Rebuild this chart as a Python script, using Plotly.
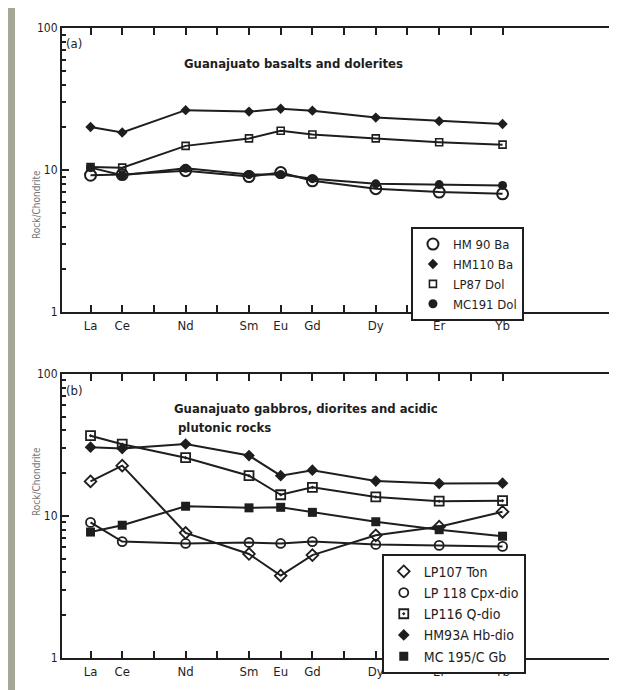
import plotly.graph_objects as go

# Element positions (atomic number) and labels
elements = ["La", "Ce", "Nd", "Sm", "Eu", "Gd", "Dy", "Er", "Yb"]
atomic_no = [57, 58, 60, 62, 63, 64, 66, 68, 70]

# Panel (a): Guanajuato basalts and dolerites
hm90_ba = [9.2, 9.3, 9.9, 9.0, 9.6, 8.4, 7.4, 7.0, 6.8]
hm110_ba = [20.1, 18.4, 26.4, 25.8, 27.0, 26.2, 23.4, 22.1, 21.1]
lp87_dol = [10.5, 10.4, 14.8, 16.7, 18.9, 17.8, 16.7, 15.7, 15.1]
mc191_dol = [10.4, 9.2, 10.3, 9.3, 9.3, 8.7, 8.0, 7.9, 7.8]

# Panel (b): Guanajuato gabbros, diorites and acidic plutonic rocks
lp107_ton = [17.5, 22.6, 7.6, 5.4, 3.8, 5.3, 7.3, 8.4, 10.7]
lp118_cpx = [9.0, 6.6, 6.4, 6.5, 6.4, 6.6, 6.3, 6.2, 6.1]
lp116_qdio = [36.7, 32.0, 25.7, 19.2, 14.1, 15.9, 13.6, 12.7, 12.8]
hm93a_hb = [30.5, 29.8, 32.1, 26.6, 19.2, 21.0, 17.6, 16.9, 17.0]
mc195_gb = [7.7, 8.6, 11.7, 11.4, 11.5, 10.6, 9.1, 8.0, 7.2]

ink = "#1e1e1e"
FONT = "DejaVu Sans Condensed, Liberation Sans Narrow, DejaVu Sans, sans-serif"

series_a = [
    ("HM 90 Ba", hm90_ba, dict(symbol="circle-open", size=11, line=dict(width=2, color=ink))),
    ("HM110 Ba", hm110_ba, dict(symbol="diamond", size=8)),
    ("LP87 Dol", lp87_dol, dict(symbol="square-open", size=7, line=dict(width=1.6, color=ink))),
    ("MC191 Dol", mc191_dol, dict(symbol="circle", size=9)),
]
series_b = [
    ("LP107 Ton", lp107_ton, dict(symbol="diamond-open", size=9, line=dict(width=1.8, color=ink))),
    ("LP 118 Cpx-dio", lp118_cpx, dict(symbol="circle-open", size=9, line=dict(width=1.8, color=ink))),
    ("LP116 Q-dio", lp116_qdio, dict(symbol="square-open-dot", size=9, line=dict(width=1.8, color=ink))),
    ("HM93A Hb-dio", hm93a_hb, dict(symbol="diamond", size=9)),
    ("MC 195/C Gb", mc195_gb, dict(symbol="square", size=9)),
]

fig = go.Figure()

def add_series(series, xa, ya, legend):
    for name, vals, mk in series:
        m = dict(color=ink, **mk)
        fig.add_trace(go.Scatter(
            x=atomic_no, y=vals, mode="lines+markers", name=name,
            line=dict(color=ink, width=2), marker=m,
            xaxis=xa, yaxis=ya, showlegend=False, cliponaxis=False))
    for name, vals, mk in series:
        m = dict(color=ink, **mk)
        fig.add_trace(go.Scatter(
            x=[None], y=[None], mode="markers", name=name, marker=m,
            xaxis=xa, yaxis=ya, showlegend=True, legend=legend))

add_series(series_a, "x", "y", "legend")
add_series(series_b, "x2", "y2", "legend2")

all_ticks = list(range(57, 71))
tick_text = [elements[atomic_no.index(t)] if t in atomic_no else "" for t in all_ticks]

xcommon = dict(range=[56.1, 73.8], tickmode="array", tickvals=all_ticks, ticktext=tick_text,
               ticks="inside", ticklen=7, tickwidth=2, tickcolor=ink,
               showline=True, linewidth=2, linecolor=ink, mirror="ticks",
               showgrid=False, zeroline=False, automargin=False,
               tickfont=dict(family=FONT, size=13, color=ink))
minor_vals = [2, 3, 4, 5, 6, 7, 8, 9, 20, 30, 40, 50, 60, 70, 80, 90]
ycommon = dict(type="log", range=[0, 2], tickmode="array", tickvals=[1, 10, 100],
               ticktext=["1", "10", "100"], ticks="inside", ticklen=7, tickwidth=2,
               tickcolor=ink, showline=True, linewidth=2, linecolor=ink, mirror="ticks",
               showgrid=False, zeroline=False, automargin=False,
               minor=dict(tickvals=minor_vals, ticks="inside", ticklen=4, tickwidth=1.5,
                          tickcolor=ink, showgrid=False),
               tickfont=dict(family=FONT, size=12, color=ink))

fig.update_layout(
    width=617, height=690,
    margin=dict(l=54, r=2, t=20, b=40, autoexpand=False),
    paper_bgcolor="white", plot_bgcolor="white",
    xaxis=dict(domain=[0, 1], anchor="y", **xcommon),
    yaxis=dict(domain=[0.549, 1.0], anchor="x", **ycommon),
    xaxis2=dict(domain=[0, 1], anchor="y2", **xcommon),
    yaxis2=dict(domain=[0.0, 0.451], anchor="x2", **ycommon),
    legend=dict(x=0.622, y=0.684, xanchor="left", yanchor="top",
                bordercolor=ink, borderwidth=2, bgcolor="white",
                font=dict(family=FONT, size=13, color=ink), tracegroupgap=0,
                itemwidth=30),
    legend2=dict(x=0.57, y=0.1655, xanchor="left", yanchor="top",
                 bordercolor=ink, borderwidth=2, bgcolor="white",
                 font=dict(family=FONT, size=14, color=ink), tracegroupgap=0,
                 itemwidth=30),
    showlegend=True,
)

ann_font = dict(family=FONT, size=13, color=ink)
annotations = [
    dict(text="(a)", x=66, y=35),
    dict(text="<b>Guanajuato basalts and dolerites</b>", x=285, y=55),
    dict(text="(b)", x=66, y=382),
    dict(text="<b>Guanajuato gabbros, diorites and acidic</b>", x=298, y=400),
    dict(text="<b>plutonic rocks</b>", x=216, y=419),
]
for a in annotations:
    px, py = a["x"], a["y"]
    fig.add_annotation(text=a["text"], x=(px - 54) / 561, y=(650 - py) / 630,
                       xref="paper", yref="paper", showarrow=False,
                       xanchor="center", yanchor="middle", font=ann_font)

for yc in [160, 510]:
    fig.add_annotation(text="Rock/Chondrite", x=(21 - 54) / 561, y=(650 - yc) / 630,
                       xref="paper", yref="paper", showarrow=False, textangle=-90,
                       font=dict(family=FONT, size=10, color="#777777"))

# scan shadow strip on the left edge
fig.add_shape(type="rect", xref="paper", yref="paper",
              x0=-54 / 561, x1=-47 / 561, y0=-40 / 630, y1=670 / 630,
              fillcolor="#a3a897", line=dict(width=0), layer="below")

fig.write_html("out.html")
